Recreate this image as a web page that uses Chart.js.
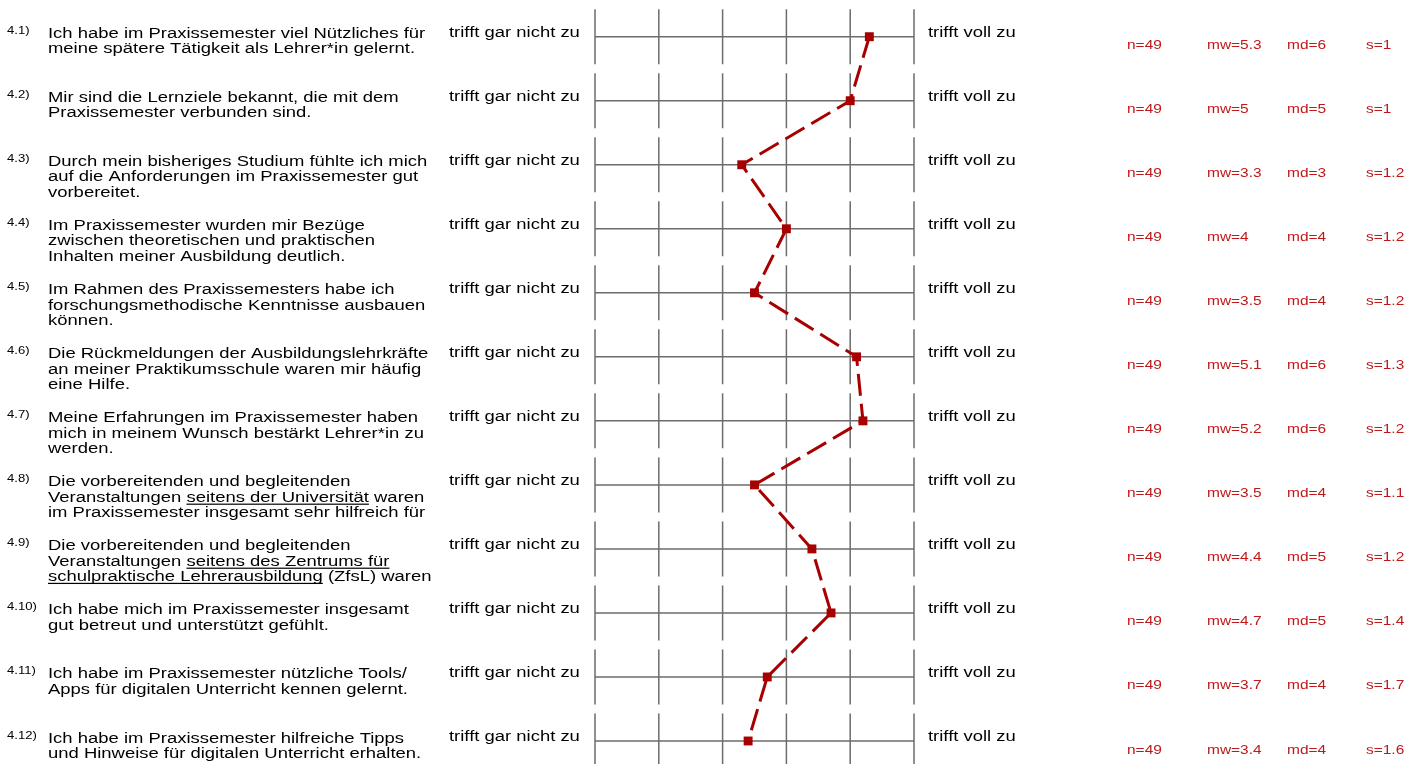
<!DOCTYPE html>
<html lang="de">
<head>
<meta charset="utf-8">
<title>Praxissemester – Profillinie</title>
<script src="https://cdn.jsdelivr.net/npm/chart.js@4.4.1/dist/chart.umd.min.js"></script>
<style>
  html, body { margin: 0; padding: 0; background: #fff; }
  #profile { display: block; }
</style>
</head>
<body>
<canvas id="profile" width="1425" height="764"></canvas>
<script>
// Item numbers and question texts (underlined passages are wrapped in _..._)
const itemNumbers = ['4.1)', '4.2)', '4.3)', '4.4)', '4.5)', '4.6)', '4.7)', '4.8)', '4.9)', '4.10)', '4.11)', '4.12)'];
const itemTexts = [
  ['Ich habe im Praxissemester viel Nützliches für', 'meine spätere Tätigkeit als Lehrer*in gelernt.'],
  ['Mir sind die Lernziele bekannt, die mit dem', 'Praxissemester verbunden sind.'],
  ['Durch mein bisheriges Studium fühlte ich mich', 'auf die Anforderungen im Praxissemester gut', 'vorbereitet.'],
  ['Im Praxissemester wurden mir Bezüge', 'zwischen theoretischen und praktischen', 'Inhalten meiner Ausbildung deutlich.'],
  ['Im Rahmen des Praxissemesters habe ich', 'forschungsmethodische Kenntnisse ausbauen', 'können.'],
  ['Die Rückmeldungen der Ausbildungslehrkräfte', 'an meiner Praktikumsschule waren mir häufig', 'eine Hilfe.'],
  ['Meine Erfahrungen im Praxissemester haben', 'mich in meinem Wunsch bestärkt Lehrer*in zu', 'werden.'],
  ['Die vorbereitenden und begleitenden', 'Veranstaltungen _seitens der Universität_ waren', 'im Praxissemester insgesamt sehr hilfreich für'],
  ['Die vorbereitenden und begleitenden', 'Veranstaltungen _seitens des Zentrums für_', '_schulpraktische Lehrerausbildung_ (ZfsL) waren'],
  ['Ich habe mich im Praxissemester insgesamt', 'gut betreut und unterstützt gefühlt.'],
  ['Ich habe im Praxissemester nützliche Tools/', 'Apps für digitalen Unterricht kennen gelernt.'],
  ['Ich habe im Praxissemester hilfreiche Tipps', 'und Hinweise für digitalen Unterricht erhalten.']
];

// Scale poles and scale steps
const leftPole = 'trifft gar nicht zu';
const rightPole = 'trifft voll zu';
const scaleSteps = [1, 2, 3, 4, 5, 6];

// Statistics per item
const nValues      = [49, 49, 49, 49, 49, 49, 49, 49, 49, 49, 49, 49];
const meanValues   = [5.3, 5, 3.3, 4, 3.5, 5.1, 5.2, 3.5, 4.4, 4.7, 3.7, 3.4];
const medianValues = [6, 5, 3, 4, 4, 6, 6, 4, 5, 5, 4, 4];
const sdValues     = [1, 1, 1.2, 1.2, 1.2, 1.3, 1.2, 1.1, 1.2, 1.4, 1.7, 1.6];

const FONT = '"Liberation Sans", Arial, Helvetica, sans-serif';
const STRETCH = 1.19;          // report typography is set slightly wide
const MARK_RED = '#a80000';
const STAT_RED = '#c01818';
const GRID_GRAY = '#6c6c6c';

function drawWide(ctx, str, x, y, size, color) {
  ctx.save();
  ctx.translate(x, y);
  ctx.scale(STRETCH, 1);
  ctx.font = size + 'px ' + FONT;
  ctx.fillStyle = color;
  ctx.textBaseline = 'alphabetic';
  ctx.fillText(str, 0, 0);
  const w = ctx.measureText(str).width * STRETCH;
  ctx.restore();
  return w;
}

// A line of text where _..._ parts get an underline
function drawRichLine(ctx, line, x, y, size, color) {
  const parts = line.split('_');
  let cx = x;
  parts.forEach((part, idx) => {
    if (!part) return;
    const w = drawWide(ctx, part, cx, y, size, color);
    if (idx % 2 === 1) {
      ctx.save();
      ctx.fillStyle = color;
      ctx.fillRect(cx, y + 2, w, 1.2);
      ctx.restore();
    }
    cx += w;
  });
}

// Row grid: horizontal scale line plus a short vertical tick at each scale step
const rowGrid = {
  id: 'rowGrid',
  beforeDatasetsDraw(chart) {
    const { ctx, scales: { x, y } } = chart;
    ctx.save();
    ctx.strokeStyle = GRID_GRAY;
    ctx.lineWidth = 1.5;
    const x0 = x.getPixelForValue(scaleSteps[0]);
    const x1 = x.getPixelForValue(scaleSteps[scaleSteps.length - 1]);
    itemTexts.forEach((_, i) => {
      const cy = y.getPixelForValue(i);
      ctx.beginPath();
      ctx.moveTo(x0, cy);
      ctx.lineTo(x1, cy);
      scaleSteps.forEach(s => {
        const px = x.getPixelForValue(s);
        ctx.moveTo(px, cy - 27.5);
        ctx.lineTo(px, cy + 27.5);
      });
      ctx.stroke();
    });
    ctx.restore();
  }
};

// Question texts, poles and statistics next to each row
const rowTexts = {
  id: 'rowTexts',
  afterDraw(chart) {
    const { ctx, scales: { x, y } } = chart;
    const xRight = x.getPixelForValue(scaleSteps[scaleSteps.length - 1]);
    itemTexts.forEach((lines, i) => {
      const cy = y.getPixelForValue(i);
      drawWide(ctx, itemNumbers[i], 7, cy - 2.5, 11, '#000');
      lines.forEach((ln, k) => drawRichLine(ctx, ln, 48, cy + 1.5 + k * 15.2, 15.5, '#000'));
      drawWide(ctx, leftPole, 449, cy, 15.5, '#000');
      drawWide(ctx, rightPole, xRight + 14, cy, 15.5, '#000');
      const sy = cy + 12.5;
      drawWide(ctx, 'n=' + nValues[i], 1127, sy, 13, STAT_RED);
      drawWide(ctx, 'mw=' + meanValues[i], 1207, sy, 13, STAT_RED);
      drawWide(ctx, 'md=' + medianValues[i], 1287, sy, 13, STAT_RED);
      drawWide(ctx, 's=' + sdValues[i], 1366, sy, 13, STAT_RED);
    });
  }
};

new Chart(document.getElementById('profile'), {
  type: 'line',
  data: {
    datasets: [{
      data: meanValues.map((v, i) => ({ x: v, y: i })),
      borderColor: MARK_RED,
      backgroundColor: MARK_RED,
      borderWidth: 3,
      borderDash: [22, 8],
      tension: 0,
      pointStyle: 'rect',
      pointRadius: 6.3,
      pointBorderWidth: 0,
      pointBackgroundColor: MARK_RED,
      clip: false
    }]
  },
  options: {
    responsive: false,
    animation: false,
    devicePixelRatio: 1,
    layout: { padding: { left: 595, right: 511, top: 36.7, bottom: 23 } },
    scales: {
      x: { type: 'linear', min: 1, max: 6, display: false },
      y: { type: 'linear', min: 0, max: 11, reverse: true, display: false }
    },
    plugins: { legend: { display: false }, tooltip: { enabled: false } }
  },
  plugins: [rowGrid, rowTexts]
});
</script>
</body>
</html>
